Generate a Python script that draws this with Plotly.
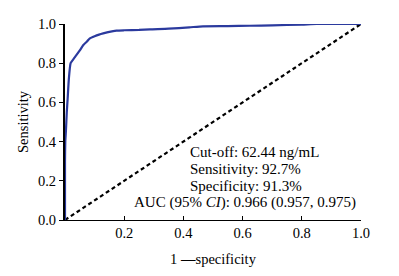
import plotly.graph_objects as go

# ROC curve points (1 - specificity, sensitivity)
roc_fpr = [0.0, 0.0, 0.001, 0.003, 0.006, 0.009, 0.013, 0.019, 0.028, 0.039, 0.05, 0.062, 0.075, 0.084,
           0.1, 0.115, 0.129, 0.15, 0.174, 0.2, 0.25, 0.287, 0.35, 0.42, 0.466, 0.55, 0.624, 0.7, 0.8, 0.85, 0.9, 1.0]
roc_tpr = [0.0, 0.3, 0.4, 0.45, 0.55, 0.62, 0.72, 0.80, 0.82, 0.842, 0.865, 0.893, 0.912, 0.927,
           0.938, 0.946, 0.952, 0.96, 0.966, 0.968, 0.97, 0.973, 0.976, 0.983, 0.988, 0.989, 0.991, 0.993, 0.997, 1.0, 1.0, 1.0]
ref_x = [0.0, 1.0]
ref_y = [0.0, 1.0]

x_ticks = [0.2, 0.4, 0.6, 0.8, 1.0]
y_ticks = [0.0, 0.2, 0.4, 0.6, 0.8, 1.0]

info_lines = ["Cut-off: 62.44 ng/mL", "Sensitivity: 92.7%", "Specificity: 91.3%"]
auc_line = "AUC (95% <i>CI</i>): 0.966 (0.957, 0.975)"

FONT = "Liberation Serif"

fig = go.Figure()
fig.add_trace(go.Scatter(x=ref_x, y=ref_y, mode="lines",
                         line=dict(color="black", width=2.2, dash="4px,3px"),
                         cliponaxis=False, showlegend=False))
fig.add_trace(go.Scatter(x=roc_fpr, y=roc_tpr, mode="lines", line_shape="spline",
                         line=dict(color="#2b3a9e", width=2.2, smoothing=0.5),
                         cliponaxis=False, showlegend=False))

info_y = [0.347, 0.260, 0.173]
for t, yy in zip(info_lines, info_y):
    fig.add_annotation(x=0.415, y=yy, xref="x", yref="y", text=t, showarrow=False,
                       xanchor="left", yanchor="middle", font=dict(size=15, color="black", family=FONT))
fig.add_annotation(x=0.226, y=0.087, xref="x", yref="y", text=auc_line, showarrow=False,
                   xanchor="left", yanchor="middle", font=dict(size=15, color="black", family=FONT))

# page body has an 8px margin, so the figure is sized/offset to compensate
fig.update_layout(
    width=391, height=268,
    margin=dict(l=57, r=37.5, t=16, b=56, autoexpand=False),
    paper_bgcolor="white", plot_bgcolor="white",
    font=dict(family=FONT, size=14.5, color="black"),
    xaxis=dict(range=[0, 1], tickvals=x_ticks, ticktext=[f"{v:.1f}" for v in x_ticks],
               ticks="inside", ticklen=4, tickwidth=1, tickcolor="black", automargin=False,
               tickfont=dict(family=FONT, size=14.5),
               showline=True, linecolor="black", linewidth=1, showgrid=False, zeroline=False,
               title=dict(text="1 <b>\u2014</b>specificity", standoff=13, font=dict(family=FONT, size=14.5))),
    yaxis=dict(range=[0, 1], tickvals=y_ticks, ticktext=[f"{v:.1f}" for v in y_ticks],
               ticks="outside", ticklen=4, tickwidth=1, tickcolor="black", automargin=False,
               tickfont=dict(family=FONT, size=14.5),
               showline=True, linecolor="black", linewidth=2, showgrid=False, zeroline=False,
               title=dict(text="Sensitivity", standoff=6, font=dict(family=FONT, size=14.5))),
)

fig.write_html("out.html")
